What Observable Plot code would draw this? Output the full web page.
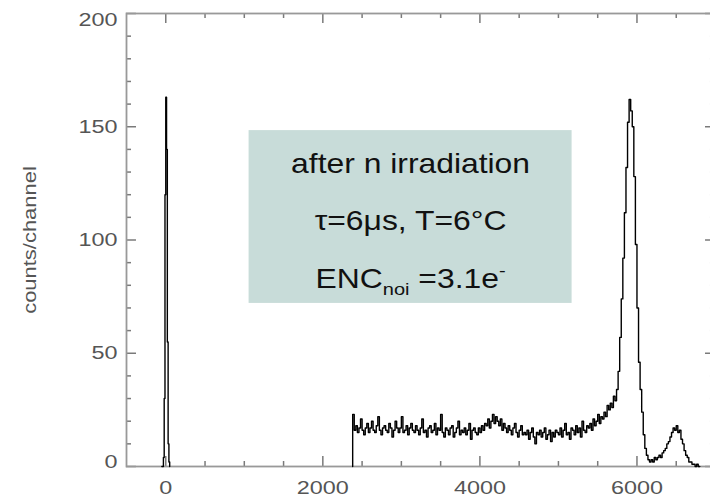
<!DOCTYPE html>
<html>
<head>
<meta charset="utf-8">
<script src="https://cdn.jsdelivr.net/npm/d3@7"></script>
<script src="https://cdn.jsdelivr.net/npm/@observablehq/plot@0.6"></script>
<style>
  html, body { margin: 0; padding: 0; background: #fff; overflow: hidden; }
  svg { display: block; }
</style>
</head>
<body>
<div id="chart"></div>
<script>
// ---- tick values ----
const xMajorTicks = [0, 2000, 4000, 6000];
const xMinorTicks = [500, 1000, 1500, 2500, 3000, 3500, 4500, 5000, 5500, 6500];
const yMajorTicks = [0, 50, 100, 150, 200];
const yMinorTicks = [10, 20, 30, 40, 60, 70, 80, 90, 110, 120, 130, 140, 160, 170, 180, 190];

// ---- noise (pedestal) peak around channel 0 ----
const noiseChannels = [-50, -40, -30, -20, -10, 0, 10, 20, 30, 40, 50];
const noiseCounts   = [0, 0, 4, 30, 120, 163, 140, 55, 10, 2, 0];

// ---- spectrum above threshold: 20-channel bins starting at channel 2380 ----
const spectrumStart = 2380;
const spectrumBin = 20;
const spectrumCounts = [
  23,16,18,15,17,21,16,14,17,19,
  15,17,20,16,15,18,22,16,14,17,
  18,16,15,19,17,13,16,20,17,15,
  17,22,15,16,18,14,17,19,16,15,
  18,16,14,17,21,15,16,13,17,18,
  15,16,19,14,17,16,23,15,13,17,
  16,14,17,18,13,15,17,20,14,16,
  15,17,14,16,19,12,16,17,15,14,
  17,15,18,16,19,18,21,17,20,23,
  19,22,20,18,21,16,19,17,15,18,
  16,14,17,19,15,13,16,18,14,15,
  14,16,12,15,17,13,10,15,14,16,
  13,15,17,12,14,16,11,15,13,16,
  15,14,17,13,16,19,14,15,12,17,
  16,14,18,15,17,13,20,16,15,18,
  17,19,16,21,18,20,23,19,22,21,
  24,22,27,25,28,26,31,29,34,42,
  57,74,92,112,132,152,162,157,150,128,
  98,70,46,34,24,14,8,5,3,2,
  3,2,4,3,4,5,4,6,7,8,
  10,11,13,15,17,16,18,15,16,12,
  10,7,5,4,2,2,1,1,0,1,
  0,0
];

// ---- annotation text ----
const yLabel = "counts/channel";
const boxLines = ["after n irradiation", "τ=6μs, T=6°C", "ENCnoi =3.1e-"];
const boxLineY = [133.6, 108.4, 82.8];
const box = {x1: 1061, x2: 5174, y1: 72, y2: 148.3};

// ---- build line data ----
const points = [];
noiseChannels.forEach((c, i) => points.push({ch: c, n: noiseCounts[i], seg: "noise"}));
points.push({ch: spectrumStart, n: 0, seg: "spec"});
spectrumCounts.forEach((n, i) => points.push({ch: spectrumStart + i * spectrumBin, n, seg: "spec"}));

const tickColor = "#7a7a7a";

const chart = Plot.plot({
  width: 710,
  height: 498,
  marginLeft: 126,
  marginRight: -5,
  marginTop: 13,
  marginBottom: 32,
  x: {domain: [-500, 7000], axis: null},
  y: {domain: [0, 200], axis: null},
  style: {fontFamily: "'Liberation Sans', Arial, sans-serif", fontSize: "18px", color: "#555", background: "#fff", overflow: "hidden"},
  marks: [
    Plot.rect([box], {x1: "x1", x2: "x2", y1: "y1", y2: "y2", fill: "#c8dcd9"}),
    // bottom ticks
    Plot.ruleX(xMajorTicks, {x: d => d, y1: 0, y2: 4.4, stroke: tickColor, strokeWidth: 1.5}),
    Plot.ruleX(xMinorTicks, {x: d => d, y1: 0, y2: 2.2, stroke: tickColor, strokeWidth: 1.5}),
    // top ticks
    Plot.ruleX(xMajorTicks, {x: d => d, y1: 200, y2: 195.6, stroke: tickColor, strokeWidth: 1.5}),
    Plot.ruleX(xMinorTicks, {x: d => d, y1: 200, y2: 197.8, stroke: tickColor, strokeWidth: 1.5}),
    // left ticks
    Plot.ruleY(yMajorTicks, {y: d => d, x1: -500, x2: -373, stroke: tickColor, strokeWidth: 1.5}),
    Plot.ruleY(yMinorTicks, {y: d => d, x1: -500, x2: -436, stroke: tickColor, strokeWidth: 1.5}),
    // right ticks
    Plot.ruleY(yMajorTicks, {y: d => d, x1: 7000, x2: 6873, stroke: tickColor, strokeWidth: 1.5}),
    Plot.ruleY(yMinorTicks, {y: d => d, x1: 7000, x2: 6936, stroke: tickColor, strokeWidth: 1.5}),
    Plot.frame({stroke: "#999", strokeWidth: 1.8}),
    Plot.axisX({ticks: xMajorTicks, tickSize: 0, tickPadding: 15, label: null, fill: "#555", tickFormat: d => String(d)}),
    Plot.axisY({ticks: [50, 100, 150], tickSize: 0, tickPadding: 9, label: null, fill: "#555", tickFormat: d => String(d)}),
    Plot.axisY({ticks: [200], tickSize: 0, tickPadding: 9, label: null, dy: 7, fill: "#555", tickFormat: d => String(d)}),
    Plot.axisY({ticks: [0], tickSize: 0, tickPadding: 9, label: null, dy: -4, fill: "#555", tickFormat: d => String(d)}),
    Plot.line(points, {x: "ch", y: "n", z: "seg", curve: "step-after", stroke: "#000", strokeWidth: 1.4}),
    Plot.text(boxLines, {x: () => 3117, y: (d, i) => boxLineY[i], text: d => d, fontSize: 27, fill: "#111", textAnchor: "middle", lineAnchor: "middle"}),
    Plot.text([yLabel], {frameAnchor: "left", rotate: -90, dx: -96, text: d => d, fontSize: 18, fill: "#555", textAnchor: "middle", lineAnchor: "middle"})
  ]
});

document.getElementById("chart").appendChild(chart);

function stretchEl(t, s) {
  const tr = t.getAttribute("transform");
  if (tr) t.setAttribute("transform", tr + ` scale(${s},1)`);
  else {
    const x = +t.getAttribute("x") || 0, y = +t.getAttribute("y") || 0;
    t.setAttribute("transform", `translate(${x},${y}) scale(${s},1) translate(${-x},${-y})`);
  }
}

const tickLabelSet = new Set([...xMajorTicks, ...yMajorTicks].map(String));
chart.querySelectorAll("text").forEach(t => {
  const s = t.textContent;
  if (boxLines.includes(s)) {
    if (s === "ENCnoi =3.1e-") {
      t.innerHTML = '<tspan>ENC</tspan><tspan font-size="17" dy="7">noi</tspan><tspan dy="-7"> =3.1e</tspan><tspan font-size="17" dy="-12">-</tspan>';
    }
    stretchEl(t, 1.18);
  } else if (s === yLabel) {
    stretchEl(t, 1.22);
  } else if (tickLabelSet.has(s)) {
    stretchEl(t, 1.3);
  }
});
</script>
</body>
</html>
